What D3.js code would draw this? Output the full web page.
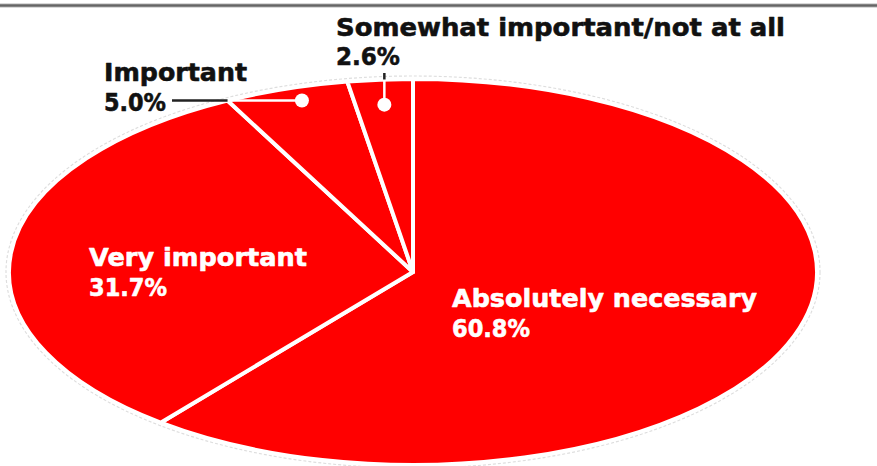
<!DOCTYPE html>
<html>
<head>
<meta charset="utf-8">
<script src="https://cdn.jsdelivr.net/npm/d3@7"></script>
<style>
  html, body { margin: 0; padding: 0; background: #fff; }
  svg { display: block; }
  text { font-family: "DejaVu Sans", Verdana, sans-serif; font-weight: bold; }
</style>
</head>
<body>
<svg id="chart" width="877" height="466"></svg>
<script>
// Survey shares, clockwise from 12 o'clock
const categories = ["Absolutely necessary", "Very important", "Important", "Somewhat important/not at all"];
const shares = [60.8, 31.7, 5.0, 2.6];
const shareLabels = ["60.8%", "31.7%", "5.0%", "2.6%"];

const W = 877, H = 466;
const cx = 413, cy = 272, rx = 404, ry = 193;
const RED = "#ff0000";

const svg = d3.select("#chart");

// top rule
svg.append("line").attr("x1", 0).attr("x2", W).attr("y1", 5.5).attr("y2", 5.5)
  .attr("stroke", "#d9d9d9").attr("stroke-width", 5);
svg.append("line").attr("x1", 0).attr("x2", W).attr("y1", 5.5).attr("y2", 5.5)
  .attr("stroke", "#656565").attr("stroke-width", 2.5);

const data = categories.map((c, i) => ({ cat: c, value: shares[i], label: shareLabels[i] }));

const pie = d3.pie().sort(null).value(d => d.value).startAngle(0).endAngle(2 * Math.PI);
const arcs = pie(data);
const arc = d3.arc().innerRadius(0).outerRadius(ry);

// faint halo around the ellipse
svg.append("ellipse")
  .attr("cx", cx).attr("cy", cy).attr("rx", rx + 3).attr("ry", ry + 3)
  .attr("fill", "none").attr("stroke", "#dedede").attr("stroke-width", 1.2)
  .attr("stroke-dasharray", "3,2");

// circle pie stretched horizontally into an ellipse
const sx = rx / ry;
const g = svg.append("g").attr("transform", `translate(${cx},${cy}) scale(${sx},1)`);
g.selectAll("path").data(arcs).join("path")
  .attr("d", arc)
  .attr("fill", RED)
  .attr("stroke", "#fff")
  .attr("stroke-width", 4)
  .attr("stroke-linejoin", "round")
  .attr("vector-effect", "non-scaling-stroke");

// position on the ellipse for a given angle and radius fraction
function pt(angle, f) {
  return [cx + Math.sin(angle) * rx * f, cy - Math.cos(angle) * ry * f];
}
function edgeXAt(y, side) {
  const t = (y - cy) / ry;
  return cx + side * rx * Math.sqrt(Math.max(0, 1 - t * t));
}
function edgeYAt(x) {
  const t = (x - cx) / rx;
  return cy - ry * Math.sqrt(Math.max(0, 1 - t * t));
}
const mid = a => (a.startAngle + a.endAngle) / 2;

function label(x, y, lines, color, widths) {
  const t = svg.append("text").attr("fill", color).attr("font-size", 25)
    .attr("stroke", color).attr("stroke-width", 0.6).attr("stroke-linejoin", "round");
  lines.forEach((s, i) => {
    const ts = t.append("tspan").attr("x", x).attr("y", y + i * 29.5).text(s);
    if (widths && widths[i]) ts.attr("textLength", widths[i]).attr("lengthAdjust", "spacingAndGlyphs");
  });
}

// inside labels
label(452, 307, [categories[0], shareLabels[0]], "#fff", [305, 78]);
label(89, 266, [categories[1], shareLabels[1]], "#fff", [218, 78]);

// Important: dot with horizontal leader to the left
{
  const a = arcs[2];
  const [dx, dy] = pt(mid(a) + 0.02, 0.93);
  const ex = edgeXAt(dy, -1);
  svg.append("line").attr("x1", ex).attr("x2", dx).attr("y1", dy).attr("y2", dy)
    .attr("stroke", "#fff").attr("stroke-width", 2.5);
  svg.append("line").attr("x1", 172).attr("x2", ex).attr("y1", dy).attr("y2", dy)
    .attr("stroke", "#222").attr("stroke-width", 2.5);
  svg.append("circle").attr("cx", dx).attr("cy", dy).attr("r", 7).attr("fill", "#fff");
  label(104, 81, [categories[2], shareLabels[2]], "#111", [143, 62]);
}

// Somewhat important/not at all: dot with vertical leader up
{
  const a = arcs[3];
  const [dx, dy] = pt(mid(a), 0.87);
  const ey = edgeYAt(dx);
  svg.append("line").attr("x1", dx).attr("x2", dx).attr("y1", ey).attr("y2", dy)
    .attr("stroke", "#fff").attr("stroke-width", 2.5);
  svg.append("line").attr("x1", dx).attr("x2", dx).attr("y1", 73).attr("y2", ey)
    .attr("stroke", "#222").attr("stroke-width", 2.5);
  svg.append("circle").attr("cx", dx).attr("cy", dy).attr("r", 7).attr("fill", "#fff");
  label(336, 36, [categories[3]], "#111", [449]);
  label(336, 65, [shareLabels[3]], "#111", [64]);
}
</script>
</body>
</html>
